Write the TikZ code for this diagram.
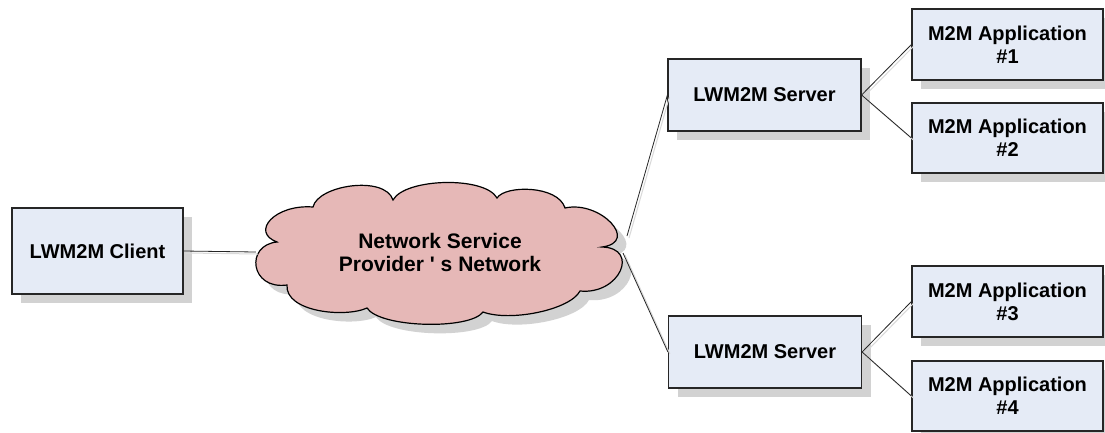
\documentclass[tikz,border=0pt]{standalone}
\usepackage{fontspec}
\setmainfont{Liberation Sans}
\usetikzlibrary{shadows}
\definecolor{boxfill}{HTML}{E5EBF6}
\definecolor{cloudfill}{HTML}{E6B8B7}
\definecolor{shadowgray}{HTML}{D2D2D2}
\definecolor{edgecol}{HTML}{262626}
\def\cloudoutline{(277,242) .. controls (250,232) and (275,204) .. (313,207)
  .. controls (318,185) and (385,175) .. (393,200)
  .. controls (405,178) and (485,176) .. (497,198)
  .. controls (505,185) and (558,185) .. (565,208)
  .. controls (600,200) and (640,242) .. (602,247)
  .. controls (640,248) and (620,295) .. (580,291)
  .. controls (570,310) and (510,322) .. (483,312)
  .. controls (470,330) and (380,328) .. (367,308)
  .. controls (345,318) and (285,312) .. (287,285)
  .. controls (250,290) and (245,245) .. cycle}
\tikzset{
  box/.style={draw=edgecol, line width=1.2pt, fill=boxfill, align=center,
    font=\fontsize{20}{23}\selectfont\bfseries, inner sep=0pt,
    general shadow={fill=shadowgray, shadow xshift=9pt, shadow yshift=-9pt}},
  cloudtext/.style={align=center, font=\fontsize{21}{23}\selectfont\bfseries, inner sep=0pt},
  conn/.style={draw=edgecol, line width=0.8pt,
    preaction={draw=black!15, line width=1pt, transform canvas={xshift=2pt,yshift=-2pt}}}
}
\begin{document}
\begin{tikzpicture}[x=1pt,y=-1pt]
\useasboundingbox[fill=white] (0,0) rectangle (1105,432);
% cloud shadow and cloud
\fill[shadowgray, shift={(9,9)}] \cloudoutline;
\draw[black, line width=1.2pt, fill=cloudfill] \cloudoutline;
\node[cloudtext, minimum width=368pt, minimum height=132pt] (cloud) at (440,252) {Network Service\\Provider \textquotesingle\ s Network};
\node[box, minimum width=171pt, minimum height=86pt] (client) at (97.5,251) {LWM2M Client};
\node[box, minimum width=193pt, minimum height=72pt] (s1) at (764.5,95) {LWM2M Server};
\node[box, minimum width=193pt, minimum height=72pt] (s2) at (765,352) {LWM2M Server};
\node[box, minimum width=191pt, minimum height=71pt] (a1) at (1007.5,44.5) {M2M Application\\\#1};
\node[box, minimum width=191pt, minimum height=70pt] (a2) at (1007.5,138) {M2M Application\\\#2};
\node[box, minimum width=191pt, minimum height=71pt] (a3) at (1007.5,301.5) {M2M Application\\\#3};
\node[box, minimum width=191pt, minimum height=70pt] (a4) at (1007.5,396) {M2M Application\\\#4};
\coordinate (c1) at (627,236);
\coordinate (c2) at (623,253);
\draw[conn] (client.east) -- (cloud.west);
\draw[conn] (c1) -- (s1.west);
\draw[conn] (c2) -- (s2.west);
\draw[conn] (s1.east) -- (a1.west);
\draw[conn] (s1.east) -- (a2.west);
\draw[conn] (s2.east) -- (a3.west);
\draw[conn] (s2.east) -- (a4.west);
\end{tikzpicture}
\end{document}
